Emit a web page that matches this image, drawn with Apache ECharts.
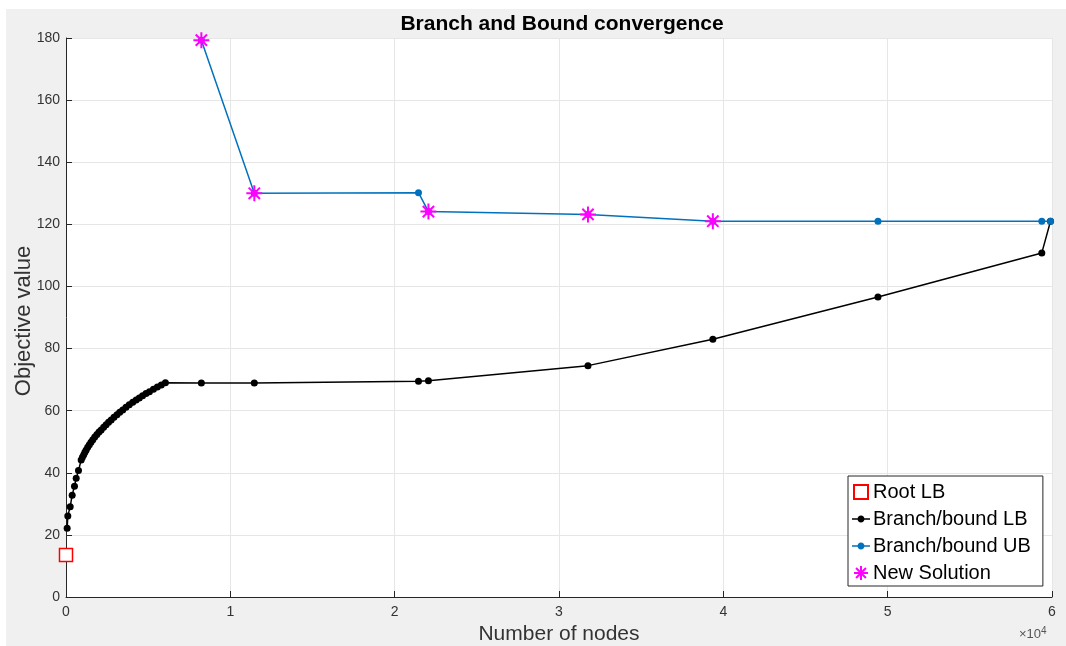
<!DOCTYPE html>
<html>
<head>
<meta charset="utf-8">
<script src="https://cdn.jsdelivr.net/npm/echarts@6/dist/echarts.min.js"></script>
<style>
html,body{margin:0;padding:0;background:#fff;}
#bg{position:absolute;left:6px;top:9px;width:1060px;height:637px;background:#f0f0f0;}
#chart{position:absolute;left:0;top:0;width:1066px;height:646px;}
</style>
</head>
<body>
<div id="bg"></div>
<div id="chart"></div>
<script>
var rootX = [0];
var rootY = [13.5];

var lbX = [70, 110, 255, 376, 517, 620, 760, 924, 1000, 1080, 1150, 1228, 1320, 1420, 1520, 1630, 1750, 1880, 2010, 2140, 2290, 2440, 2590, 2748, 2920, 3100, 3270, 3453, 3650, 3850, 4060, 4268, 4460, 4660, 4870, 5076, 5320, 5560, 5800, 6049, 8237, 11459, 21450, 22055, 31763, 39362, 49410, 59380, 59909];
var lbY = [22.1, 26.1, 29.1, 32.8, 35.7, 38.2, 40.7, 44.1, 45.0, 45.8, 46.6, 47.3, 48.2, 49.0, 49.8, 50.6, 51.5, 52.3, 53.1, 53.8, 54.7, 55.5, 56.3, 57.0, 57.9, 58.7, 59.5, 60.2, 61.1, 61.9, 62.7, 63.4, 64.1, 64.8, 65.5, 66.1, 66.9, 67.6, 68.3, 69.0, 68.9, 68.9, 69.5, 69.6, 74.5, 83.0, 96.6, 110.8, 121.0];

var ubX = [8237, 11459, 21450, 22055, 31763, 39362, 49410, 59380, 59909];
var ubY = [179.3, 130.0, 130.2, 124.1, 123.2, 121.0, 121.0, 121.0, 121.0];

var solX = [8237, 11459, 22055, 31763, 39362];
var solY = [179.3, 130.0, 124.1, 123.2, 121.0];

var xTicks = [0, 10000, 20000, 30000, 40000, 50000, 60000];
var yTicks = [0, 20, 40, 60, 80, 100, 120, 140, 160, 180];

function pairs(xs, ys) { return xs.map(function (x, i) { return [x, ys[i]]; }); }

var starPath = 'path://M0,-10L0,10M-10,0L10,0M-7.07,-7.07L7.07,7.07M-7.07,7.07L7.07,-7.07';
var lineDotIcon = 'path://M0,6.25L18,6.25L18,7.75L0,7.75Z M12.5,7C12.5,8.93 10.93,10.5 9,10.5C7.07,10.5 5.5,8.93 5.5,7C5.5,5.07 7.07,3.5 9,3.5C10.93,3.5 12.5,5.07 12.5,7Z';
var squareIcon = 'path://M0,0L12,0L12,12L0,12Z';
var font = 'Liberation Sans, Arial, Helvetica, sans-serif';

var chart = echarts.init(document.getElementById('chart'), null, {renderer: 'canvas'});
chart.setOption({
  backgroundColor: 'transparent',
  animation: false,
  textStyle: {fontFamily: font},
  title: {
    text: 'Branch and Bound convergence',
    left: 557, top: 9, textAlign: 'center',
    textStyle: {fontSize: 21, fontWeight: 'bold', color: '#000', fontFamily: font}
  },
  grid: {left: 66, right: 14, top: 38, bottom: 49, show: true, backgroundColor: '#fff', borderWidth: 0},
  xAxis: {
    type: 'value', min: xTicks[0], max: xTicks[xTicks.length - 1], interval: 10000,
    axisLine: {show: true, onZero: false, lineStyle: {color: '#262626', width: 1}},
    axisTick: {show: true, inside: true, length: 6, lineStyle: {color: '#262626'}},
    axisLabel: {fontSize: 14, color: '#333', margin: 8, formatter: function (v) { return String(v / 10000); }},
    splitLine: {show: true, lineStyle: {color: '#e6e6e6', width: 1}}
  },
  yAxis: {
    type: 'value', min: yTicks[0], max: yTicks[yTicks.length - 1], interval: 20,
    axisLine: {show: true, onZero: false, lineStyle: {color: '#262626', width: 1}},
    axisTick: {show: true, inside: true, length: 6, lineStyle: {color: '#262626'}},
    axisLabel: {fontSize: 14, color: '#333', margin: 6},
    splitLine: {show: true, lineStyle: {color: '#e6e6e6', width: 1}}
  },
  legend: {
    orient: 'vertical', left: 848, top: 476,
    backgroundColor: '#fff', borderColor: '#262626', borderWidth: 1, borderRadius: 0,
    padding: [6, 12, 3, 4], itemGap: 7, itemWidth: 18, itemHeight: 14,
    textStyle: {fontSize: 20, color: '#000', fontFamily: font, padding: [0, 0, 0, -2]},
    data: [
      {name: 'Root LB', icon: squareIcon},
      {name: 'Branch/bound LB', icon: lineDotIcon},
      {name: 'Branch/bound UB', icon: lineDotIcon},
      {name: 'New Solution'}
    ]
  },
  graphic: [
    {type: 'text', x: 24, y: 321, rotation: Math.PI / 2,
     style: {text: 'Objective value', fontSize: 22, fill: '#333', fontFamily: font, align: 'center', verticalAlign: 'middle'}},
    {type: 'text', x: 559, y: 634,
     style: {text: 'Number of nodes', fontSize: 21, fill: '#333', fontFamily: font, align: 'center', verticalAlign: 'middle'}},
    {type: 'text', x: 1019, y: 634,
     style: {text: '×10{s|4}', fontSize: 13, fill: '#555', fontFamily: font, align: 'left', verticalAlign: 'middle',
       rich: {s: {fontSize: 10, fill: '#555', verticalAlign: 'top', padding: [0, 0, 6, 0]}}}}
  ],
  series: [
    {
      name: 'Root LB', type: 'scatter', data: pairs(rootX, rootY),
      symbol: 'rect', symbolSize: 13, z: 5,
      itemStyle: {color: '#fff', borderColor: '#ff0000', borderWidth: 1.5, opacity: 1}
    },
    {
      name: 'Branch/bound LB', type: 'line', data: pairs(lbX, lbY),
      symbol: 'circle', symbolSize: 7, showSymbol: true, showAllSymbol: true,
      lineStyle: {color: '#000', width: 1.5},
      itemStyle: {color: '#000', borderWidth: 0}
    },
    {
      name: 'Branch/bound UB', type: 'line', data: pairs(ubX, ubY),
      symbol: 'circle', symbolSize: 7, showSymbol: true, showAllSymbol: true,
      lineStyle: {color: '#0072BD', width: 1.5},
      itemStyle: {color: '#0072BD', borderWidth: 0}
    },
    {
      name: 'New Solution', type: 'scatter', data: pairs(solX, solY),
      symbol: starPath, symbolSize: 16, z: 6,
      itemStyle: {color: '#ff00ff', borderColor: '#ff00ff', borderWidth: 2, opacity: 1}
    }
  ]
});
</script>
</body>
</html>
